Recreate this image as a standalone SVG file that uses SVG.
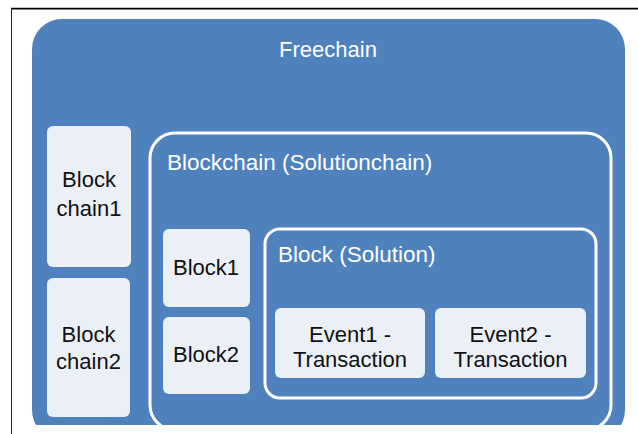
<svg xmlns="http://www.w3.org/2000/svg" width="638" height="434" viewBox="0 0 638 434">
<style>
  text { font-family: "Liberation Sans", Arial, sans-serif; font-size: 22px; }
  .w { fill: #FFFFFF; }
  .lab { font-size: 22.5px; }
  .d { fill: #111111; text-anchor: middle; }
  .box { fill: #EBF0F7; }
  .frame { fill: none; stroke: #FFFFFF; stroke-width: 3; }
</style>
<defs>
  <clipPath id="clip"><rect x="0" y="0" width="638" height="425"/></clipPath>
</defs>
<rect x="0" y="0" width="638" height="434" fill="#FFFFFF"/>
<line x1="11" y1="8.6" x2="638" y2="8.6" stroke="#000" stroke-width="1.6"/>
<line x1="11.5" y1="8" x2="11.5" y2="434" stroke="#222" stroke-width="1"/>
<g clip-path="url(#clip)">
  <g id="freechain">
    <rect x="32" y="19" width="593" height="421" rx="30" fill="#4F81BD"/>
    <text class="w" x="328" y="57" text-anchor="middle">Freechain</text>
  </g>
  <g id="blockchain1">
    <rect class="box" x="47" y="126" width="84" height="141" rx="6"/>
    <text class="d" x="89" y="187">Block</text>
    <text class="d" x="89" y="216">chain1</text>
  </g>
  <g id="blockchain2">
    <rect class="box" x="47" y="278" width="83" height="139" rx="6"/>
    <text class="d" x="88.5" y="342">Block</text>
    <text class="d" x="88.5" y="369">chain2</text>
  </g>
  <g id="solutionchain">
    <rect class="frame" x="150" y="133" width="461" height="297" rx="25"/>
    <text class="w lab" x="167" y="170">Blockchain (Solutionchain)</text>
  </g>
  <g id="block1">
    <rect class="box" x="163" y="229" width="87" height="78" rx="6"/>
    <text class="d" x="206" y="275">Block1</text>
  </g>
  <g id="block2">
    <rect class="box" x="163" y="317" width="87" height="77" rx="6"/>
    <text class="d" x="206" y="362">Block2</text>
  </g>
  <g id="solution">
    <rect class="frame" x="265" y="229" width="331" height="169" rx="15"/>
    <text class="w lab" x="278" y="262">Block (Solution)</text>
  </g>
  <g id="event1">
    <rect class="box" x="275" y="308" width="150" height="70" rx="6"/>
    <text class="d" x="350" y="342">Event1 -</text>
    <text class="d" x="350" y="367">Transaction</text>
  </g>
  <g id="event2">
    <rect class="box" x="435" y="308" width="151" height="70" rx="6"/>
    <text class="d" x="510.5" y="342">Event2 -</text>
    <text class="d" x="510.5" y="367">Transaction</text>
  </g>
</g>
<g id="connectors"/>
</svg>
